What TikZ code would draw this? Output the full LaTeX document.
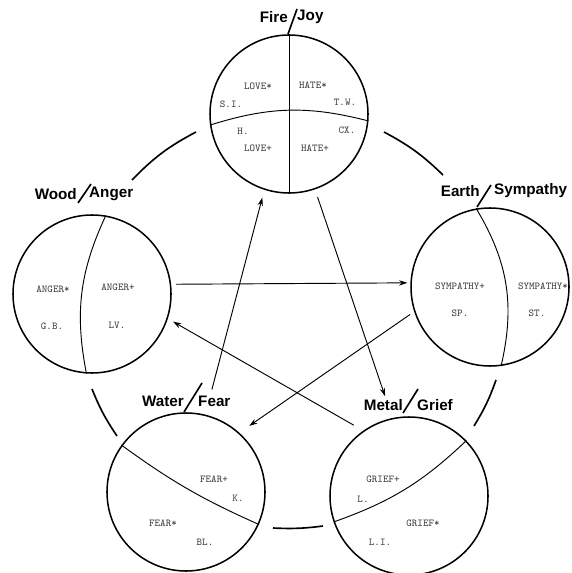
\documentclass[tikz,border=0pt]{standalone}
\usepackage{fontspec}
\setsansfont{Liberation Sans}
\usetikzlibrary{arrows.meta}
\begin{document}
\begin{tikzpicture}[x=0.03cm,y=-0.03cm,>={Stealth[length=7pt,width=4.5pt]},
  el/.style={circle,draw,line width=1.3pt,minimum size=4.74cm,inner sep=0pt},
  t/.style={font=\fontsize{13}{15}\sffamily\bfseries,inner sep=0pt},
  s/.style={font=\fontsize{9}{10}\ttfamily,text=black!75,inner sep=0pt},
  dv/.style={line width=0.8pt},
  sl/.style={line width=1.4pt},
  rim/.style={line width=1.4pt},
  ar/.style={->,line width=0.8pt}]
\useasboundingbox (0,0) rectangle (571,573);
% elements
\node[el] (fire) at (289,114) {};
\node[el] (wood) at (92,294) {};
\node[el] (earth) at (490,287) {};
\node[el] (water) at (186,492) {};
\node[el] (metal) at (409,496) {};
% dividers
\draw[dv] (fire.north) -- (fire.south);
\draw[dv] (fire.188) to[bend left=16] (fire.-5);
\draw[dv] (wood.80) to[bend right=18] (wood.-94);
\draw[dv] (earth.100) to[bend left=22] (earth.-82);
\draw[dv] (water.144) to[bend right=6] (water.-24);
\draw[dv] (metal.44) to[bend left=12] (metal.199);
% titles
\node[t,anchor=east] (fireT) at (288,17) {Fire};
\node[t,anchor=west] (joyT) at (297,17) {Joy};
\draw[sl] (288,34) -- (297,9);
\node[t,anchor=east] (woodT) at (77,194) {Wood};
\node[t,anchor=west] (angerT) at (89,194) {Anger};
\draw[sl] (78,203) -- (91,184);
\node[t,anchor=east] (earthT) at (480,191) {Earth};
\node[t,anchor=west] (sympT) at (494,191) {Sympathy};
\draw[sl] (477,207) -- (491,185);
\node[t,anchor=east] (waterT) at (184,401) {Water};
\node[t,anchor=west] (fearT) at (198,401) {Fear};
\draw[sl] (184,412) -- (202,383);
\node[t,anchor=east] (metalT) at (403,405) {Metal};
\node[t,anchor=west] (griefT) at (417,405) {Grief};
\draw[sl] (403,413) -- (418,389);
% fire labels
\node[s] (loveS) at (258,86) {LOVE*};
\node[s] (hateS) at (313,85) {HATE*};
\node[s] (si) at (231,104) {S.I.};
\node[s] (tw) at (345,102) {T.W.};
\node[s] (h) at (243,131) {H.};
\node[s] (cx) at (347,130) {CX.};
\node[s] (loveP) at (258,148) {LOVE+};
\node[s] (hateP) at (315,148) {HATE+};
% wood labels
\node[s] (angerS) at (53,289) {ANGER*};
\node[s] (angerP) at (118,287) {ANGER+};
\node[s] (gb) at (52,326) {G.B.};
\node[s] (lv) at (117,325) {LV.};
% earth labels
\node[s] (sympP) at (460,286) {SYMPATHY+};
\node[s] (sympS) at (543,286) {SYMPATHY*};
\node[s] (sp) at (460,313) {SP.};
\node[s] (st) at (537,313) {ST.};
% water labels
\node[s] (fearP) at (214,479) {FEAR+};
\node[s] (k) at (238,498) {K.};
\node[s] (fearS) at (163,523) {FEAR*};
\node[s] (bl) at (205,542) {BL.};
% metal labels
\node[s] (griefP) at (383,479) {GRIEF+};
\node[s] (l) at (363,499) {L.};
\node[s] (griefS) at (423,523) {GRIEF*};
\node[s] (li) at (380,542) {L.I.};
% outer ring
\coordinate (fw1) at (132,180); \coordinate (fw2) at (196,132);
\coordinate (fe1) at (384,132); \coordinate (fe2) at (443,175);
\coordinate (em1) at (496,380); \coordinate (em2) at (474,426);
\coordinate (mw1) at (323,526); \coordinate (mw2) at (273,528);
\coordinate (ww1) at (117,436); \coordinate (ww2) at (92,389);
\draw[rim] (fw1) to[bend left=9] (fw2);
\draw[rim] (fe1) to[bend left=8] (fe2);
\draw[rim] (em1) to[bend left=6] (em2);
\draw[rim] (mw1) to[bend left=5] (mw2);
\draw[rim] (ww1) to[bend left=6] (ww2);
% arrows
\draw[ar,shorten <=0.15cm,shorten >=0.09cm] (wood.7) -- (earth.177);
\draw[ar,shorten <=0.33cm,shorten >=0.18cm] (metal.125) -- (wood.-18);
\draw[ar,shorten <=0.15cm,shorten >=0.36cm] (earth.198) -- (water.48);
\draw[ar,shorten <=0.78cm,shorten >=0.24cm] (water.76) -- (fire.-108);
\draw[ar,shorten <=0.24cm,shorten >=0.69cm] (fire.-71) -- (metal.102);
\end{tikzpicture}
\end{document}
